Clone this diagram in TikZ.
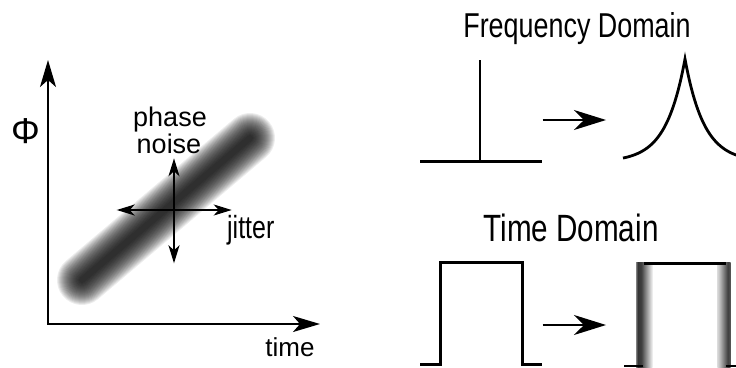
\documentclass[tikz,border=0pt]{standalone}
\usepackage{fontspec}
\setmainfont{Liberation Sans}
\newfontfamily\narrowfont[FakeStretch=0.78]{Liberation Sans}
\usetikzlibrary{arrows.meta, calc}
% blurred pulse edges, dark on the outside
\pgfdeclarehorizontalshading{edgefadeL}{100bp}{color(0bp)=(black!50); color(25bp)=(black!50); color(30bp)=(black!80); color(41bp)=(black!75); color(75bp)=(black!3); color(100bp)=(black!3)}
\pgfdeclarehorizontalshading{edgefadeR}{100bp}{color(0bp)=(black!15); color(25bp)=(black!15); color(33bp)=(black!25); color(64bp)=(black!75); color(75bp)=(black!65); color(100bp)=(black!65)}
\tikzset{
	axis_arrow/.style={{Stealth[length=27pt, width=16pt, inset=7pt]}-{Stealth[length=27pt, width=16pt, inset=7pt]}, line width=2pt},
	cross_arrow/.style={{Stealth[length=18pt, width=11pt, inset=5pt]}-{Stealth[length=18pt, width=11pt, inset=5pt]}, line width=2pt},
	map_arrow/.style={-{Stealth[length=32pt, width=20pt, inset=10pt]}, line width=1.5pt},
	signal/.style={line width=2.8pt},
	blur_band/.style={line cap=round, draw=black, draw opacity=0.07},
	lbl/.style={inner sep=0pt, anchor=base},
	title_lbl/.style={lbl, font=\narrowfont\fontsize{34.5}{40}\selectfont}
}

\begin{document}
\begin{tikzpicture}[x=1pt, y=-1pt]
	\useasboundingbox (0,0) rectangle (736,367);
	\clip (0,0) rectangle (736,367);
	% smeared phase track
	\coordinate (band_lo) at (82,280);
	\coordinate (band_hi) at (250,138);
	\foreach \w in {6,8,...,50}
		\draw[blur_band, line width=\w pt] (band_lo) -- (band_hi);
	% axes
	\coordinate (origin) at (48,324);
	\coordinate (y_tip) at (48,60);
	\coordinate (x_tip) at (320,324);
	\draw[axis_arrow] (y_tip) -- (origin) -- (x_tip);
	\node[lbl, font=\fontsize{36}{40}\selectfont] (phi) at (25.5,143) {Φ};
	\node[lbl, font=\fontsize{26}{30}\selectfont] (time_lbl) at (290,356.7) {time};
	% jitter / phase noise cross
	\coordinate (cross_l) at (116.7,210);
	\coordinate (cross_r) at (231.7,210);
	\coordinate (cross_t) at (174,158.3);
	\coordinate (cross_b) at (174,263.3);
	\draw[cross_arrow] (cross_l) -- (cross_r);
	\draw[cross_arrow] (cross_t) -- (cross_b);
	\node[lbl, font=\fontsize{27}{30}\selectfont] (phase_lbl) at (170,126.7) {phase};
	\node[lbl, font=\fontsize{27}{30}\selectfont] (noise_lbl) at (169,153.3) {noise};
	\node[lbl, anchor=base west, font=\narrowfont\fontsize{32}{36}\selectfont] (jitter_lbl) at (227,238.3) {jitter};

	% frequency domain: pure tone -> broadened line
	\node[title_lbl] (freq_title) at (577,37.7) {Frequency Domain};
	\draw[signal] (420,161.7) -- (541.7,161.7);
	\draw[signal] (480,60) -- (480,161.7);
	\coordinate (f_from) at (542.7,120);
	\coordinate (f_to) at (606,120);
	\draw[map_arrow] (f_from) -- (f_to);
	\draw[signal] plot[domain=-62:62, samples=125] ({685+\x}, {162-103*exp(-abs(\x)/19)});

	% time domain: clean pulse -> pulse with smeared edges
	\node[title_lbl, font=\narrowfont\fontsize{38}{44}\selectfont] (time_title) at (571,241.7) {Time Domain};
	\draw[signal] (420,364.3) -- (440.7,364.3) -- (440.7,262.3) -- (522.3,262.3) -- (522.3,364.3) -- (541.7,364.3);
	\coordinate (t_from) at (542.7,325);
	\coordinate (t_to) at (606,325);
	\draw[map_arrow] (t_from) -- (t_to);
	\shade[shading=edgefadeL] (636,262.7) rectangle (652.7,367);
	\shade[shading=edgefadeR] (717.3,262.7) rectangle (730.7,367);
	\draw[signal] (644,263.3) -- (725.7,263.3);
	\draw[signal] (624,366) -- (643.3,366);
	\draw[signal] (726,366) -- (740,366);
\end{tikzpicture}
\end{document}
